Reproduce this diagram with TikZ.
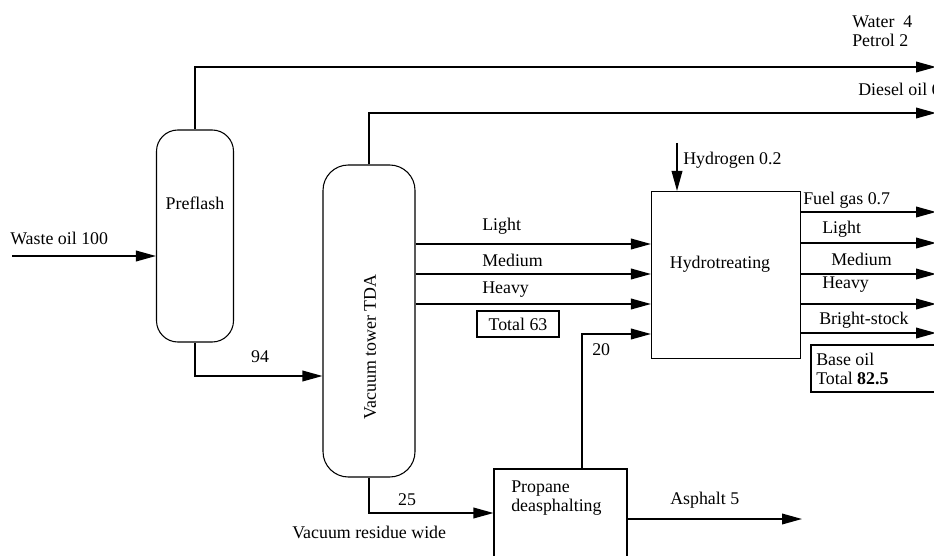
\documentclass[tikz,border=0pt]{standalone}
\usepackage{fontspec}
\setmainfont{Liberation Serif}
\usetikzlibrary{arrows.meta}
\begin{document}
\begin{tikzpicture}[x=0.75pt,y=-0.75pt,
  every node/.style={font=\fontsize{13.4}{16}\selectfont, inner sep=0pt},
  arr/.style={line width=1.1pt, -{Triangle[length=15pt,width=8pt]}},
  box/.style={draw, line width=0.8pt},
  lbl/.style={anchor=west}]
\useasboundingbox (0,0) rectangle (934,556);
% units
\node[box, rounded corners=16pt, minimum width=57.75pt, minimum height=159pt] (pre) at (195,236) {};
\node[box, rounded corners=19pt, minimum width=69pt, minimum height=234pt] (tow) at (369,321) {};
\node[box, minimum width=111.75pt, minimum height=125.25pt] (hyd) at (726,275) {};
\node[box, minimum width=61.5pt, minimum height=19.5pt] (tot) at (518,324) {Total 63};
\node[box, minimum width=111pt, minimum height=35.25pt] (base) at (885,368.5) {};
\node[box, minimum width=99.75pt, minimum height=98.25pt] (prop) at (560.5,534.5) {};
% coordinates
\coordinate (win) at (12,256);
\coordinate (o1) at (936,67);
\coordinate (o2) at (936,113);
\coordinate (rt) at (936,0);
\coordinate (h2) at (677,143);
\coordinate (c20) at (582,334);
\coordinate (asp) at (802,519);
% connectors
\draw[arr] (win) -- (win -| pre.west);
\draw[arr] (pre.north) |- (o1);
\draw[arr] (pre.south) |- (tow.west |- 0,376);
\draw[arr] (tow.north) |- (o2);
\foreach \yy in {244,274,304} \draw[arr] (tow.east |- 0,\yy) -- (hyd.west |- 0,\yy);
\draw[arr] (h2) -- (h2 |- hyd.north);
\draw[arr] (prop.north -| c20) |- (hyd.west |- c20);
\foreach \yy in {212,243,274,304,333} \draw[arr] (hyd.east |- 0,\yy) -- (rt |- 0,\yy);
\draw[arr] (tow.south) |- (prop.west |- 0,513);
\draw[arr] (prop.east |- asp) -- (asp);
% labels
\node[lbl] (lw) at (852,22) {Water\enspace 4};
\node[lbl] (lp) at (852,40) {Petrol 2};
\node[lbl] (ld) at (858,89) {Diesel oil 6};
\node[lbl] (lwo) at (10,238) {Waste oil 100};
\node (lpre) at (195,203) {Preflash};
\node (l94) at (260,357) {94};
\node[lbl] (ll) at (482,226) {Light};
\node[lbl] (lm) at (482,260) {Medium};
\node[lbl] (lh) at (482,290) {Heavy};
\node[rotate=90] (ltow) at (370,347) {Vacuum tower TDA};
\node[lbl] (lh2) at (683,160) {Hydrogen 0.2};
\node (lhyd) at (720,264) {Hydrotreating};
\node[lbl] (lfg) at (803,200) {Fuel gas 0.7};
\node[lbl] (ll2) at (822,229) {Light};
\node[lbl] (lm2) at (831,259) {Medium};
\node[lbl] (lh22) at (822,285) {Heavy};
\node[lbl] (lbs) at (819,320) {Bright-stock};
\node[lbl] (lbo) at (816,359) {Base oil};
\node[lbl] (lbt) at (816,378) {Total \textbf{82.5}};
\node[lbl] (l20) at (592,350) {20};
\node (l25) at (407,500) {25};
\node[lbl] (lvr) at (292,532) {Vacuum residue wide};
\node[lbl] (lpr1) at (511,489) {Propane};
\node[lbl] (lpr2) at (511,507) {deasphalting};
\node[lbl] (las) at (670,500) {Asphalt 5};
\end{tikzpicture}
\end{document}
